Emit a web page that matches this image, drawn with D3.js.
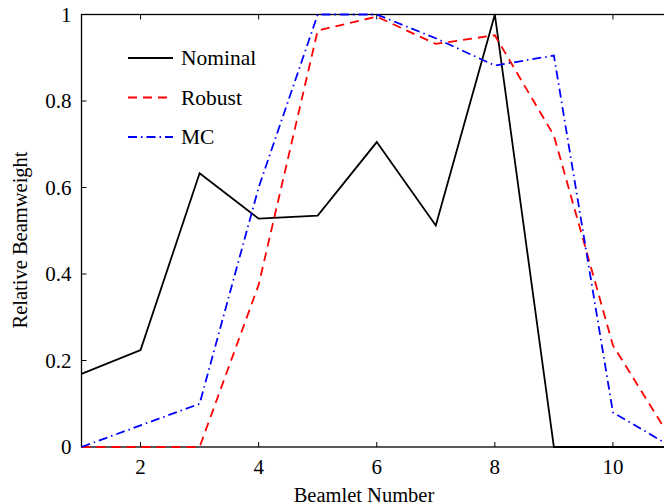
<!DOCTYPE html>
<html>
<head>
<meta charset="utf-8">
<script src="https://cdn.jsdelivr.net/npm/d3@7"></script>
<style>
  body { margin: 0; background: #fff; }
  svg { display: block; }
  text { font-family: "Liberation Serif", "Times New Roman", serif; fill: #000; }
</style>
</head>
<body>
<div id="chart"></div>
<script>
// data
const beamlets = [1, 2, 3, 4, 5, 6, 7, 8, 9, 10, 11];
const nominal = [0.169, 0.224, 0.633, 0.528, 0.535, 0.705, 0.512, 1.0, 0, 0, 0];
const robust = [0, 0, 0, 0.375, 0.963, 0.995, 0.932, 0.952, 0.72, 0.235, 0.015];
const mc = [0, 0.05, 0.1, 0.6, 1.0, 1.0, 0.945, 0.882, 0.905, 0.08, 0];
const xTicks = [2, 4, 6, 8, 10];
const yTicks = [0, 0.2, 0.4, 0.6, 0.8, 1];

const width = 664, height = 504;
const x0 = 81.5, x1 = 672, yTop = 14.5, yBot = 447;

const svg = d3.select("#chart").append("svg")
  .attr("width", width).attr("height", height);

const x = d3.scaleLinear().domain([1, 11]).range([x0, x1]);
const y = d3.scaleLinear().domain([0, 1]).range([yBot, yTop]);

// frame
svg.append("rect")
  .attr("x", x0).attr("y", yTop)
  .attr("width", x1 - x0).attr("height", yBot - yTop)
  .attr("fill", "none").attr("stroke", "#000").attr("stroke-width", 1.3);

// inward ticks
const tl = 5;
svg.append("g").selectAll("line").data(xTicks).join("line")
  .attr("x1", d => x(d)).attr("x2", d => x(d))
  .attr("y1", yBot).attr("y2", yBot - tl)
  .attr("stroke", "#000");
svg.append("g").selectAll("line").data(xTicks).join("line")
  .attr("x1", d => x(d)).attr("x2", d => x(d))
  .attr("y1", yTop).attr("y2", yTop + tl)
  .attr("stroke", "#000");
svg.append("g").selectAll("line").data(yTicks).join("line")
  .attr("x1", x0).attr("x2", x0 + tl)
  .attr("y1", d => y(d)).attr("y2", d => y(d))
  .attr("stroke", "#000");

svg.append("g").selectAll("text").data(xTicks).join("text")
  .attr("x", d => x(d)).attr("y", yBot + 27)
  .attr("text-anchor", "middle").attr("font-size", 21)
  .text(d => d);
svg.append("g").selectAll("text").data(yTicks).join("text")
  .attr("x", x0 - 10).attr("y", d => y(d) + 7)
  .attr("text-anchor", "end").attr("font-size", 21)
  .text(d => d3.format("~g")(d));

svg.append("text")
  .attr("x", 364).attr("y", 502)
  .attr("text-anchor", "middle").attr("font-size", 20.5)
  .text("Beamlet Number");
svg.append("text")
  .attr("transform", `translate(27, 240) rotate(-90)`)
  .attr("text-anchor", "middle").attr("font-size", 20.5)
  .text("Relative Beamweight");

// series
const series = [
  { name: "Nominal", values: nominal, color: "#000", dash: null },
  { name: "Robust", values: robust, color: "#ff0000", dash: "9,6" },
  { name: "MC", values: mc, color: "#0000ff", dash: "9,4,1.5,4" }
];

const line = d3.line()
  .x((d, i) => x(beamlets[i]))
  .y(d => y(d));

svg.append("clipPath").attr("id", "clip")
  .append("rect").attr("x", x0).attr("y", yTop - 2)
  .attr("width", x1 - x0 + 2).attr("height", yBot - yTop + 4);

svg.append("g").attr("clip-path", "url(#clip)")
  .selectAll("path").data(series).join("path")
  .attr("d", d => line(d.values))
  .attr("fill", "none")
  .attr("stroke", d => d.color)
  .attr("stroke-width", 1.8)
  .attr("stroke-dasharray", d => d.dash);

// legend
const legend = svg.append("g").selectAll("g").data(series).join("g")
  .attr("transform", (d, i) => `translate(128, ${58 + i * 39.5})`);
legend.append("line")
  .attr("x1", 0).attr("x2", 45).attr("y1", 0).attr("y2", 0)
  .attr("stroke", d => d.color).attr("stroke-width", 1.8)
  .attr("stroke-dasharray", d => d.dash);
legend.append("text")
  .attr("x", 53).attr("y", 7).attr("font-size", 21.5)
  .text(d => d.name);
</script>
</body>
</html>
